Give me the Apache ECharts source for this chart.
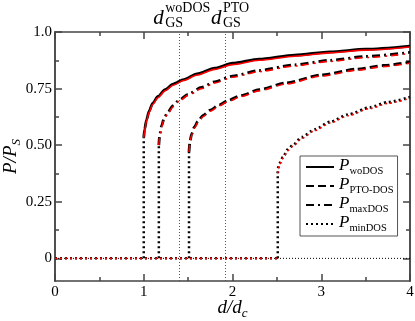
<!DOCTYPE html>
<html>
<head>
<meta charset="utf-8">
<script src="https://cdn.jsdelivr.net/npm/echarts@6/dist/echarts.min.js"></script>
<style>
  html, body { margin: 0; padding: 0; background: #fff; }
  #main { width: 415px; height: 321px; }
</style>
</head>
<body>
<div id="main"></div>
<script>
// values (d/dc , P/Ps)
var woD = [1.00, 1.01, 1.03, 1.06, 1.10, 1.16, 1.24, 1.33, 1.45, 1.60, 1.80, 2.00, 2.30, 2.70, 3.10, 3.50, 4.00];
var woP = [0.535, 0.57, 0.61, 0.65, 0.685, 0.715, 0.745, 0.77, 0.79, 0.815, 0.84, 0.862, 0.88, 0.898, 0.912, 0.924, 0.938];
var woPred = [0.535, 0.565, 0.605, 0.645, 0.68, 0.71, 0.74, 0.765, 0.786, 0.81, 0.835, 0.856, 0.875, 0.893, 0.908, 0.92, 0.934];

var maxD = [1.17, 1.18, 1.20, 1.23, 1.27, 1.33, 1.40, 1.50, 1.65, 1.80, 2.00, 2.30, 2.70, 3.10, 3.50, 4.00];
var maxP = [0.50, 0.545, 0.585, 0.62, 0.645, 0.675, 0.70, 0.725, 0.755, 0.78, 0.805, 0.83, 0.855, 0.875, 0.892, 0.91];
var maxPred = [0.50, 0.54, 0.58, 0.615, 0.64, 0.67, 0.695, 0.72, 0.75, 0.775, 0.80, 0.825, 0.85, 0.87, 0.887, 0.905];

var ptoD = [1.51, 1.52, 1.54, 1.57, 1.61, 1.67, 1.75, 1.85, 1.95, 2.10, 2.30, 2.60, 3.00, 3.40, 3.70, 4.00];
var ptoP = [0.47, 0.515, 0.55, 0.58, 0.605, 0.632, 0.655, 0.678, 0.698, 0.72, 0.745, 0.775, 0.81, 0.836, 0.852, 0.867];
var ptoPred = [0.47, 0.51, 0.545, 0.575, 0.60, 0.627, 0.65, 0.673, 0.693, 0.715, 0.74, 0.77, 0.805, 0.831, 0.847, 0.862];

var minD = [2.51, 2.515, 2.53, 2.57, 2.62, 2.68, 2.78, 2.93, 3.10, 3.30, 3.55, 3.75, 4.00];
var minP = [0.376, 0.40, 0.42, 0.447, 0.48, 0.50, 0.535, 0.57, 0.603, 0.635, 0.667, 0.69, 0.712];
var minPred = [0.376, 0.395, 0.415, 0.443, 0.475, 0.495, 0.53, 0.565, 0.598, 0.63, 0.662, 0.685, 0.707];

// ground-state positions (vertical guides)
var gsD = [1.40, 1.915];
var gsSup = ['woDOS', 'PTO'];

var xTicks = [0, 1, 2, 3, 4];
var yTicks = [0, 0.25, 0.5, 0.75, 1.0];
var yTickText = ['0', '0.25', '0.50', '0.75', '1.0'];
var yMinor = [0.125, 0.375, 0.625, 0.875];

var serif = 'Liberation Serif';
var chart = echarts.init(document.getElementById('main'));

function pairs(d, p) { return d.map(function (x, i) { return [x, p[i]]; }); }

function curve(name, d, p, color, width, type, z) {
  return {
    name: name, type: 'line', data: pairs(d, p), symbol: 'none',
    smooth: 0.25, smoothMonotone: 'x', silent: true, z: z,
    itemStyle: { color: color },
    lineStyle: { color: color, width: width, type: type }
  };
}

function seg(data, color, width, type, z) {
  return {
    type: 'line', data: data, symbol: 'none', silent: true, z: z,
    lineStyle: { color: color, width: width, type: type }
  };
}

var frameLine = { color: '#444', width: 1.5 };
var tickStyle = { color: '#444', width: 1.5 };
var nameRich = {
  i: { fontFamily: serif, fontStyle: 'italic', fontSize: 19, lineHeight: 22, verticalAlign: 'top', color: '#000' },
  s: { fontFamily: serif, fontStyle: 'italic', fontSize: 13, lineHeight: 12, verticalAlign: 'bottom', color: '#000' }
};

function yAx(pos, vals, len, labels) {
  return {
    type: 'value', position: pos, min: -0.1, max: 1.0,
    axisLine: { show: true, onZero: false, lineStyle: frameLine },
    splitLine: { show: false },
    axisTick: { show: true, inside: true, length: len, customValues: vals, lineStyle: tickStyle },
    axisLabel: labels ? {
      show: true, customValues: yTicks, margin: 3,
      fontFamily: serif, fontSize: 15, color: '#000',
      formatter: function (v) { return yTickText[yTicks.indexOf(v)]; }
    } : { show: false },
    name: labels ? '{i|P}{i|/P}{s|S}' : '',
    nameLocation: 'middle', nameRotate: 90, nameGap: 32, nameMoveOverlap: false,
    nameTextStyle: { rich: nameRich }
  };
}

function xAx(pos, labels) {
  return {
    type: 'value', position: pos, min: 0, max: 4, interval: 1,
    axisLine: { show: true, onZero: false, lineStyle: frameLine },
    splitLine: { show: false },
    axisTick: { show: true, inside: true, length: 7, lineStyle: tickStyle },
    minorTick: { show: true, splitNumber: 2, length: 4, lineStyle: tickStyle },
    axisLabel: labels ? { show: true, margin: 4, fontFamily: serif, fontSize: 15, color: '#000' } : { show: false },
    name: labels ? '{i|d/d}{s|c}' : '',
    nameLocation: 'middle', nameGap: 17, nameMoveOverlap: false,
    nameTextStyle: { rich: nameRich }
  };
}

var black = '#000', red = '#ff0000';
var dotB = [2, 3], dotR = [2, 3];

var series = [
  // thin zero reference line
  seg([[xTicks[0], 0], [xTicks[xTicks.length - 1], 0]], black, 1, [1, 2], 1),
  // zero branch of minDOS
  seg([[0, 0], [minD[0], 0]], black, 2.5, dotB, 3),
  seg([[0, 0], [minD[0], 0]], red, 1.6, dotR, 4),
  // jumps
  seg([[woD[0], 0], [woD[0], woP[0]]], black, 2.5, dotB, 3),
  seg([[maxD[0], 0], [maxD[0], maxP[0]]], black, 2.5, dotB, 3),
  seg([[ptoD[0], 0], [ptoD[0], ptoP[0]]], black, 2.5, dotB, 3),
  seg([[minD[0], 0], [minD[0], minP[0]]], black, 2.5, dotB, 3),
  // curves
  curve('woDOS', woD, woP, black, 2.8, 'solid', 5),
  curve('woDOS red', woD, woPred, red, 1.6, 'solid', 6),
  curve('PTO-DOS', ptoD, ptoP, black, 2.8, [8, 4], 5),
  curve('PTO-DOS red', ptoD, ptoPred, red, 1.6, [7, 5], 6),
  curve('maxDOS', maxD, maxP, black, 2.8, [8, 4, 2, 4], 5),
  curve('maxDOS red', maxD, maxPred, red, 1.6, [7, 5, 2, 4], 6),
  curve('minDOS', minD, minP, black, 2.8, dotB, 5),
  curve('minDOS red', minD, minPred, red, 1.6, dotR, 6),
  // ground state guides
  {
    type: 'line', data: [], silent: true,
    markLine: {
      silent: true, symbol: 'none', animation: false,
      label: { show: false },
      lineStyle: { color: '#555', width: 1, type: [1, 2] },
      data: gsD.map(function (v) { return { xAxis: v }; })
    }
  }
];

chart.setOption({
  animation: false,
  backgroundColor: '#fff',
  grid: { left: 55, right: 5, top: 32, bottom: 40, containLabel: false, outerBoundsMode: 'none' },
  xAxis: [xAx('bottom', true), xAx('top', false)],
  yAxis: [
    yAx('left', yTicks, 7, true),
    yAx('left', yMinor, 4, false),
    yAx('right', yTicks, 7, false),
    yAx('right', yMinor, 4, false)
  ],
  legend: {
    data: ['woDOS', 'PTO-DOS', 'maxDOS', 'minDOS'],
    orient: 'vertical', left: 300, top: 156, align: 'left',
    itemWidth: 28, itemHeight: 14, itemGap: -1,
    padding: [1, 4, 2, 5],
    itemStyle: { opacity: 0 },
    backgroundColor: '#fff', borderColor: '#555', borderWidth: 1, borderRadius: 0,
    selectedMode: false,
    formatter: function (n) { return '{p|P}{s|' + n + '}'; },
    textStyle: {
      rich: {
        p: { fontFamily: serif, fontStyle: 'italic', fontSize: 17, lineHeight: 20, verticalAlign: 'top', color: '#000' },
        s: { fontFamily: serif, fontSize: 10.5, lineHeight: 8, verticalAlign: 'bottom', color: '#000' }
      }
    }
  },
  series: series
});

// labels above the ground-state guides
var gfx = [];
gsD.forEach(function (v, i) {
  var x = chart.convertToPixel({ xAxisIndex: 0 }, v);
  var x0 = i === 0 ? x - 26 : x - 14;
  gfx.push({ type: 'text', x: x0, y: 18, silent: true,
    style: { text: 'd', font: 'italic 21px "Liberation Serif"', fill: '#000', verticalAlign: 'middle' } });
  gfx.push({ type: 'text', x: x0 + 12, y: 8, silent: true,
    style: { text: gsSup[i], font: '14px "Liberation Serif"', fill: '#000', verticalAlign: 'middle' } });
  gfx.push({ type: 'text', x: x0 + 12, y: 23, silent: true,
    style: { text: 'GS', font: '14px "Liberation Serif"', fill: '#000', verticalAlign: 'middle' } });
});
chart.setOption({ graphic: gfx });
</script>
</body>
</html>
